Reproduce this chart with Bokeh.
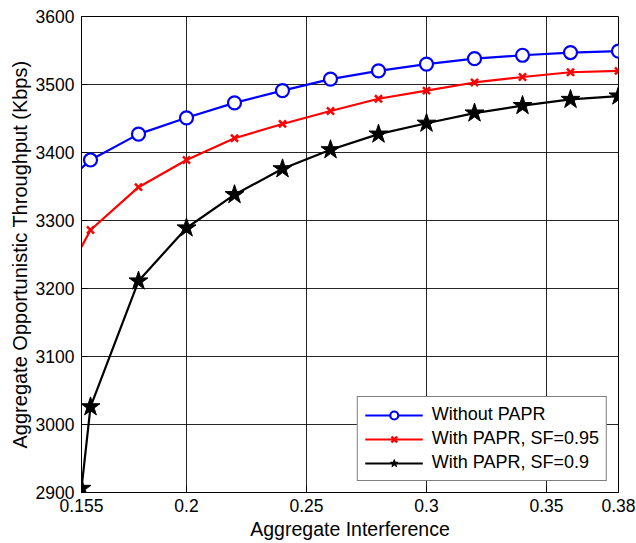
from bokeh.plotting import figure
from bokeh.models import Legend, LegendItem, FixedTicker, Range1d
from bokeh.embed import file_html
from bokeh.resources import INLINE

# Data
x_vals = [0.16, 0.18, 0.20, 0.22, 0.24, 0.26, 0.28, 0.30, 0.32, 0.34, 0.36, 0.38]
without_papr = [3389, 3427, 3451, 3473, 3491, 3508, 3520, 3530, 3538, 3543, 3547, 3549]
papr_095 = [3286, 3349, 3389, 3421, 3442, 3461, 3479, 3491, 3503, 3511, 3518, 3520]
papr_09 = [3026, 3211, 3289, 3338, 3376, 3404, 3427, 3443, 3458, 3469, 3478, 3483]

# values at the left edge of the axes
x_edge = 0.15625
without_edge = 3377
papr_095_edge = 3261
papr_09_edge = 2906

x_ticks = [0.15625, 0.2, 0.25, 0.3, 0.35, 0.38]
x_tick_labels = ["0.155", "0.2", "0.25", "0.3", "0.35", "0.38"]
y_ticks = [2900, 3000, 3100, 3200, 3300, 3400, 3500, 3600]

FONT = "Liberation Sans"

p = figure(width=636, height=543, output_backend="svg", toolbar_location=None,
           x_range=Range1d(0.15625, 0.38), y_range=Range1d(2900, 3600),
           min_border_left=81, min_border_right=18, min_border_top=16, min_border_bottom=51)
p.frame_width = 537
p.frame_height = 476

p.background_fill_color = "white"
p.outline_line_color = "black"
p.outline_line_width = 1

for g in (p.xgrid, p.ygrid):
    g.grid_line_color = "#1a1a1a"
    g.grid_line_width = 1
    g.grid_line_alpha = 0.95

p.xaxis.ticker = FixedTicker(ticks=x_ticks)
p.xaxis.major_label_overrides = {t: l for t, l in zip(x_ticks, x_tick_labels)}
p.yaxis.ticker = FixedTicker(ticks=y_ticks)

for ax in (p.xaxis, p.yaxis):
    ax.major_tick_in = 6
    ax.major_tick_out = 0
    ax.minor_tick_in = 0
    ax.minor_tick_out = 0
    ax.axis_line_color = "black"
    ax.major_tick_line_color = "black"
    ax.major_label_text_font = FONT
    ax.major_label_text_font_size = "17.5px"
    ax.major_label_text_color = "black"
    ax.axis_label_text_font = FONT
    ax.axis_label_text_font_style = "normal"
    ax.axis_label_text_color = "black"

p.xaxis.axis_label_text_font_size = "19.5px"
p.yaxis.axis_label_text_font_size = "20px"
p.xaxis.axis_label = "Aggregate Interference"
p.yaxis.axis_label = "Aggregate Opportunistic Throughput (Kbps)"
p.xaxis.major_label_standoff = 6
p.yaxis.major_label_standoff = 7
p.xaxis.axis_label_standoff = 3
p.yaxis.axis_label_standoff = 2

# Lines
lb = p.line([x_edge] + x_vals, [without_edge] + without_papr, line_color="blue", line_width=2.2)
lr = p.line([x_edge] + x_vals, [papr_095_edge] + papr_095, line_color="red", line_width=2.2)
lk = p.line([x_edge] + x_vals, [papr_09_edge] + papr_09, line_color="black", line_width=2.2)

# Markers
mb = p.scatter(x_vals, without_papr, marker="circle", size=13, line_color="blue",
               line_width=2.2, fill_color="white")
mr = p.scatter(x_vals, papr_095, marker="x", size=10, line_color="red", line_width=2.5)
mk = p.scatter([x_edge] + x_vals, [papr_09_edge] + papr_09, marker="star", size=20,
               line_color="black", fill_color="black", line_width=1)

legend = Legend(items=[
    LegendItem(label="Without PAPR", renderers=[lb, mb]),
    LegendItem(label="With PAPR, SF=0.95", renderers=[lr, mr]),
    LegendItem(label="With PAPR, SF=0.9", renderers=[lk, mk]),
], location="bottom_right")
legend.label_text_font = FONT
legend.label_text_font_size = "18px"
legend.label_text_color = "black"
legend.glyph_width = 58
legend.glyph_height = 20
legend.spacing = 3
legend.padding = 7
legend.margin = 11
legend.border_line_color = "black"
legend.border_line_width = 1
legend.background_fill_color = "white"
legend.background_fill_alpha = 1
legend.label_standoff = 9
p.add_layout(legend)

open("out.html", "w").write(file_html(p, INLINE))
